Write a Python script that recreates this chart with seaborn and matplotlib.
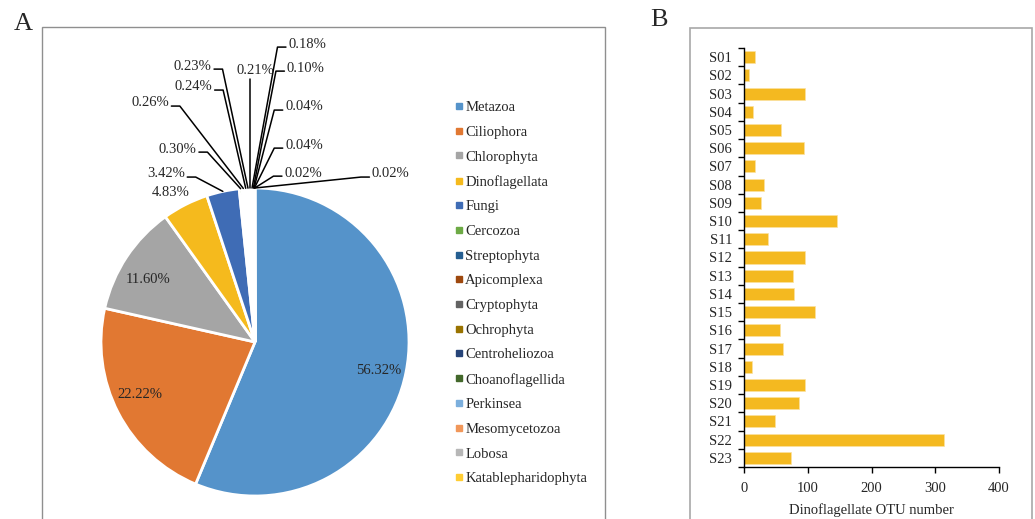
import numpy as np
import matplotlib
matplotlib.use("Agg")
import matplotlib.pyplot as plt
from matplotlib.lines import Line2D
from matplotlib.patches import Rectangle
from matplotlib.ticker import FixedLocator
import seaborn as sns

# ---- data -------------------------------------------------------------
taxa = ["Metazoa", "Ciliophora", "Chlorophyta", "Dinoflagellata", "Fungi",
        "Cercozoa", "Streptophyta", "Apicomplexa", "Cryptophyta", "Ochrophyta",
        "Centroheliozoa", "Choanoflagellida", "Perkinsea", "Mesomycetozoa",
        "Lobosa", "Katablepharidophyta"]
taxa_pct = [56.32, 22.22, 11.60, 4.83, 3.42, 0.30, 0.26, 0.24, 0.23, 0.21,
            0.18, 0.10, 0.04, 0.04, 0.02, 0.02]
taxa_colors = ["#5593CA", "#E17832", "#A5A5A5", "#F5BA1D", "#3F6CB5",
               "#6DAA45", "#255E91", "#9E480E", "#636363", "#997300",
               "#264478", "#43682B", "#7CAFDD", "#F1975A", "#B7B7B7", "#FFCD33"]

samples = [f"S{i:02d}" for i in range(1, 24)]
otu_counts = [18, 8, 95, 14, 58, 94, 18, 32, 26, 146, 38, 96,
              77, 78, 112, 57, 61, 12, 96, 86, 48, 313, 74]
x_ticks = [0, 100, 200, 300, 400]
bar_color = "#F4B920"

# ---- style ------------------------------------------------------------
sns.set_theme(style="white")
plt.rcParams["font.family"] = ["Liberation Serif", "DejaVu Serif"]
plt.rcParams["font.size"] = 10.5

W, H = 1035, 519
fig = plt.figure(figsize=(W / 100, H / 100), dpi=100)


def fx(px):
    return px / W


def fy(py):
    return 1 - py / H


# panel frames
fig.patches.append(Rectangle((fx(42), fy(560)), fx(605) - fx(42), fy(27) - fy(560),
                             transform=fig.transFigure, fill=False,
                             edgecolor="#8F8F8F", linewidth=1.0))
fig.patches.append(Rectangle((fx(689.5), fy(560)), fx(1032) - fx(689.5), fy(28) - fy(560),
                             transform=fig.transFigure, fill=False,
                             edgecolor="#A8A8A8", linewidth=1.2))
fig.text(fx(23), fy(24), "A", fontsize=19, ha="center", va="center")
fig.text(fx(659), fy(20), "B", fontsize=19, ha="center", va="center")

# ---- panel A: pie -----------------------------------------------------
cx, cy, r = 255, 342, 154  # pie centre and radius in pixels
axp = fig.add_axes([0, 0, 620 / W, 1])
wedges, _ = axp.pie(taxa_pct, colors=taxa_colors, startangle=90, counterclock=False,
                    radius=1, wedgeprops=dict(edgecolor="white", linewidth=2))
axp.set_aspect("auto")
axp.set_xlim(-cx / r, (620 - cx) / r)
axp.set_ylim((cy - H) / r, cy / r)
axp.axis("off")

vals = np.array(taxa_pct)
cum = np.cumsum(vals)
mid = cum - vals / 2
theta = np.deg2rad(90 - 360 * mid / vals.sum())
anchors = np.column_stack([np.cos(theta), np.sin(theta)])

# label placement: (x, y, alignment) in pie radius units
label_pos = {
    0: (0.80, -0.182, "center"),
    1: (-0.747, -0.338, "center"),
    2: (-0.695, 0.409, "center"),
    3: (-0.545, 0.968, "center"),
    4: (-0.455, 1.091, "right"),
    5: (-0.379, 1.253, "right"),
    6: (-0.558, 1.552, "right"),
    7: (-0.277, 1.656, "right"),
    8: (-0.281, 1.792, "right"),
    9: (0.006, 1.76, "top"),
    10: (0.216, 1.935, "left"),
    11: (0.206, 1.779, "left"),
    12: (0.195, 1.526, "left"),
    13: (0.195, 1.279, "left"),
    14: (0.190, 1.097, "left"),
    15: (0.758, 1.091, "left"),
}

for i, (x, y, how) in label_pos.items():
    txt = f"{taxa_pct[i]:.2f}%"
    ax_, ay_ = anchors[i]
    if how == "center":
        axp.text(x, y, txt, ha="center", va="center", fontsize=10.5)
    elif how == "top":
        axp.text(x, y, txt, ha="center", va="center", fontsize=10.5)
        axp.plot([ax_, ax_], [y - 0.05, ay_], color="black", lw=1.1)
    elif how == "right":
        axp.text(x, y, txt, ha="right", va="center", fontsize=10.5)
        x0 = x + 0.015
        x1 = x0 + 0.055
        yl = y - 0.02
        axp.plot([x0, x1, ax_], [yl, yl, ay_], color="black", lw=1.1)
    else:
        axp.text(x, y, txt, ha="left", va="center", fontsize=10.5)
        x0 = x - 0.015
        x1 = x0 - 0.055
        yl = y - 0.02
        axp.plot([x0, x1, ax_], [yl, yl, ay_], color="black", lw=1.1)

handles = [Line2D([], [], marker="s", linestyle="", markersize=4.2, color=c)
           for c in taxa_colors]
axp.legend(handles, taxa, loc="upper left", bbox_to_anchor=(fx(455) * W / 620, fy(101)),
           bbox_transform=axp.transAxes, frameon=False, fontsize=10.5,
           handlelength=0.5, handletextpad=0.2, labelspacing=0.785,
           borderpad=0, borderaxespad=0)

# ---- panel B: horizontal bars ----------------------------------------
axb = fig.add_axes([fx(744), fy(467), 255 / W, 419 / H])
sns.barplot(x=otu_counts, y=samples, orient="h", color=bar_color, saturation=1,
            width=0.66, ax=axb, edgecolor="#FBE2A0", linewidth=0.5)
axb.set_xlim(0, 400)
axb.set_ylim(len(samples) - 0.5, -0.5)
axb.set_xticks(x_ticks)
axb.set_yticks(range(len(samples)))
axb.set_yticklabels(samples)
axb.yaxis.set_minor_locator(FixedLocator(np.arange(-0.5, len(samples), 1)))
axb.tick_params(axis="y", which="major", length=0, pad=8.5, labelsize=10.5)
axb.tick_params(axis="y", which="minor", length=4.5, width=1.0, direction="out",
                color="black", left=True)
axb.tick_params(axis="x", which="major", length=4, width=1.0, direction="out",
                color="black", pad=7, labelsize=10.5, bottom=True)
axb.set_xlabel("Dinoflagellate OTU number", fontsize=10.5, labelpad=6)
axb.set_ylabel("")
for side in ("top", "right"):
    axb.spines[side].set_visible(False)
for side in ("left", "bottom"):
    axb.spines[side].set_color("black")
    axb.spines[side].set_linewidth(1.0)
axb.set_facecolor("none")

fig.savefig("out.png", dpi=100)
